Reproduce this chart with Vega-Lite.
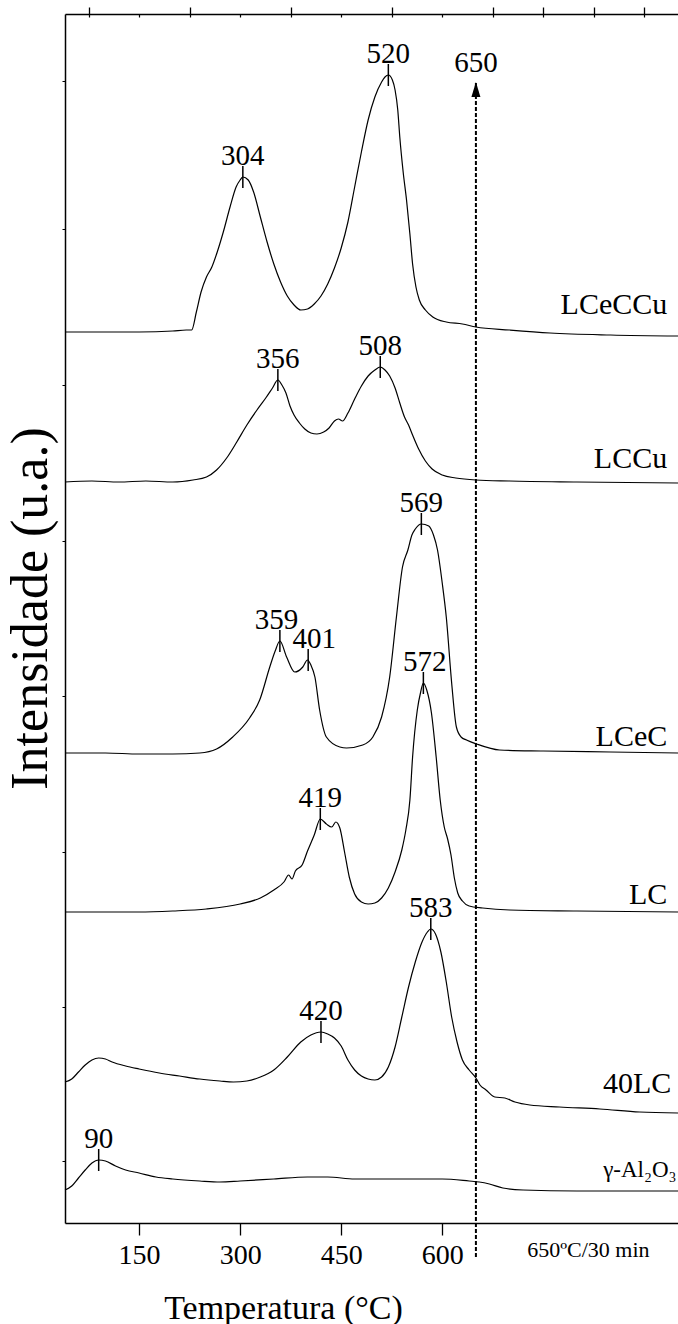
{
  "$schema": "https://vega.github.io/schema/vega-lite/v6.json",
  "width": 613,
  "height": 1209,
  "autosize": {"type": "none"},
  "padding": {"left": 65, "top": 14, "right": 0, "bottom": 101},
  "background": "white",
  "config": {"view": {"stroke": null}, "font": "Liberation Serif"},
  "datasets": {
    "curves": [
      {"s":"LCeCCu","T":40,"I":891},{"s":"LCeCCu","T":100,"I":891},{"s":"LCeCCu","T":150,"I":891},{"s":"LCeCCu","T":200,"I":892},{"s":"LCeCCu","T":220,"I":893},{"s":"LCeCCu","T":228,"I":893},{"s":"LCeCCu","T":235,"I":911},{"s":"LCeCCu","T":242,"I":931},{"s":"LCeCCu","T":250,"I":946},{"s":"LCeCCu","T":258,"I":956},{"s":"LCeCCu","T":266,"I":971},{"s":"LCeCCu","T":275,"I":991},{"s":"LCeCCu","T":285,"I":1016},{"s":"LCeCCu","T":294,"I":1036},{"s":"LCeCCu","T":300,"I":1043},{"s":"LCeCCu","T":304,"I":1046},{"s":"LCeCCu","T":312,"I":1043},{"s":"LCeCCu","T":320,"I":1031},{"s":"LCeCCu","T":330,"I":1006},{"s":"LCeCCu","T":340,"I":981},{"s":"LCeCCu","T":350,"I":959},{"s":"LCeCCu","T":360,"I":941},{"s":"LCeCCu","T":370,"I":927},{"s":"LCeCCu","T":380,"I":918},{"s":"LCeCCu","T":390,"I":913},{"s":"LCeCCu","T":400,"I":914},{"s":"LCeCCu","T":410,"I":919},{"s":"LCeCCu","T":420,"I":927},{"s":"LCeCCu","T":430,"I":939},{"s":"LCeCCu","T":440,"I":955},{"s":"LCeCCu","T":450,"I":975},{"s":"LCeCCu","T":460,"I":1001},{"s":"LCeCCu","T":470,"I":1036},{"s":"LCeCCu","T":480,"I":1071},{"s":"LCeCCu","T":490,"I":1103},{"s":"LCeCCu","T":500,"I":1126},{"s":"LCeCCu","T":510,"I":1141},{"s":"LCeCCu","T":515,"I":1146},{"s":"LCeCCu","T":520,"I":1148},{"s":"LCeCCu","T":526,"I":1143},{"s":"LCeCCu","T":530,"I":1133},{"s":"LCeCCu","T":534,"I":1113},{"s":"LCeCCu","T":537,"I":1086},{"s":"LCeCCu","T":542,"I":1051},{"s":"LCeCCu","T":547,"I":1023},{"s":"LCeCCu","T":552,"I":989},{"s":"LCeCCu","T":556,"I":959},{"s":"LCeCCu","T":561,"I":936},{"s":"LCeCCu","T":566,"I":923},{"s":"LCeCCu","T":575,"I":913},{"s":"LCeCCu","T":586,"I":906},{"s":"LCeCCu","T":606,"I":901},{"s":"LCeCCu","T":630,"I":899},{"s":"LCeCCu","T":650,"I":896},{"s":"LCeCCu","T":700,"I":893},{"s":"LCeCCu","T":760,"I":890},{"s":"LCeCCu","T":850,"I":888},{"s":"LCeCCu","T":950,"I":887},
      {"s":"LCCu","T":40,"I":741},{"s":"LCCu","T":80,"I":742},{"s":"LCCu","T":120,"I":741},{"s":"LCCu","T":160,"I":742},{"s":"LCCu","T":200,"I":741},{"s":"LCCu","T":230,"I":743},{"s":"LCCu","T":250,"I":746},{"s":"LCCu","T":265,"I":753},{"s":"LCCu","T":280,"I":765},{"s":"LCCu","T":295,"I":781},{"s":"LCCu","T":310,"I":798},{"s":"LCCu","T":325,"I":813},{"s":"LCCu","T":338,"I":825},{"s":"LCCu","T":348,"I":835},{"s":"LCCu","T":356,"I":843},{"s":"LCCu","T":362,"I":838},{"s":"LCCu","T":368,"I":830},{"s":"LCCu","T":374,"I":817},{"s":"LCCu","T":380,"I":808},{"s":"LCCu","T":388,"I":800},{"s":"LCCu","T":396,"I":794},{"s":"LCCu","T":405,"I":790},{"s":"LCCu","T":414,"I":789},{"s":"LCCu","T":424,"I":791},{"s":"LCCu","T":432,"I":795},{"s":"LCCu","T":440,"I":802},{"s":"LCCu","T":446,"I":804},{"s":"LCCu","T":452,"I":802},{"s":"LCCu","T":460,"I":810},{"s":"LCCu","T":470,"I":824},{"s":"LCCu","T":480,"I":837},{"s":"LCCu","T":490,"I":847},{"s":"LCCu","T":500,"I":853},{"s":"LCCu","T":508,"I":856},{"s":"LCCu","T":515,"I":853},{"s":"LCCu","T":522,"I":847},{"s":"LCCu","T":530,"I":835},{"s":"LCCu","T":537,"I":820},{"s":"LCCu","T":544,"I":806},{"s":"LCCu","T":550,"I":798},{"s":"LCCu","T":556,"I":788},{"s":"LCCu","T":565,"I":774},{"s":"LCCu","T":575,"I":762},{"s":"LCCu","T":585,"I":754},{"s":"LCCu","T":600,"I":748},{"s":"LCCu","T":620,"I":745},{"s":"LCCu","T":650,"I":743},{"s":"LCCu","T":700,"I":742},{"s":"LCCu","T":800,"I":741},{"s":"LCCu","T":950,"I":740},
      {"s":"LCeC","T":40,"I":470},{"s":"LCeC","T":100,"I":470},{"s":"LCeC","T":150,"I":469},{"s":"LCeC","T":200,"I":469},{"s":"LCeC","T":240,"I":470},{"s":"LCeC","T":265,"I":474},{"s":"LCeC","T":289,"I":486},{"s":"LCeC","T":314,"I":505},{"s":"LCeC","T":329,"I":523},{"s":"LCeC","T":344,"I":556},{"s":"LCeC","T":352,"I":572},{"s":"LCeC","T":359,"I":582},{"s":"LCeC","T":369,"I":566},{"s":"LCeC","T":381,"I":551},{"s":"LCeC","T":393,"I":556},{"s":"LCeC","T":400,"I":563},{"s":"LCeC","T":405,"I":558},{"s":"LCeC","T":411,"I":546},{"s":"LCeC","T":418,"I":513},{"s":"LCeC","T":428,"I":486},{"s":"LCeC","T":448,"I":476},{"s":"LCeC","T":458,"I":475},{"s":"LCeC","T":482,"I":478},{"s":"LCeC","T":497,"I":486},{"s":"LCeC","T":510,"I":506},{"s":"LCeC","T":522,"I":546},{"s":"LCeC","T":532,"I":606},{"s":"LCeC","T":541,"I":656},{"s":"LCeC","T":549,"I":673},{"s":"LCeC","T":555,"I":688},{"s":"LCeC","T":560,"I":694},{"s":"LCeC","T":569,"I":699},{"s":"LCeC","T":580,"I":697},{"s":"LCeC","T":587,"I":688},{"s":"LCeC","T":593,"I":673},{"s":"LCeC","T":600,"I":640},{"s":"LCeC","T":606,"I":606},{"s":"LCeC","T":614,"I":540},{"s":"LCeC","T":621,"I":496},{"s":"LCeC","T":628,"I":486},{"s":"LCeC","T":636,"I":483},{"s":"LCeC","T":651,"I":479},{"s":"LCeC","T":685,"I":473},{"s":"LCeC","T":750,"I":472},{"s":"LCeC","T":850,"I":471},{"s":"LCeC","T":950,"I":470},
      {"s":"LC","T":40,"I":311},{"s":"LC","T":100,"I":311},{"s":"LC","T":150,"I":311},{"s":"LC","T":200,"I":312},{"s":"LC","T":250,"I":314},{"s":"LC","T":300,"I":319},{"s":"LC","T":330,"I":325},{"s":"LC","T":350,"I":333},{"s":"LC","T":365,"I":341},{"s":"LC","T":372,"I":348},{"s":"LC","T":377,"I":344},{"s":"LC","T":382,"I":352},{"s":"LC","T":392,"I":358},{"s":"LC","T":400,"I":372},{"s":"LC","T":410,"I":388},{"s":"LC","T":419,"I":404},{"s":"LC","T":428,"I":399},{"s":"LC","T":436,"I":396},{"s":"LC","T":442,"I":401},{"s":"LC","T":448,"I":395},{"s":"LC","T":455,"I":371},{"s":"LC","T":462,"I":346},{"s":"LC","T":470,"I":329},{"s":"LC","T":480,"I":321},{"s":"LC","T":490,"I":319},{"s":"LC","T":500,"I":320},{"s":"LC","T":510,"I":325},{"s":"LC","T":520,"I":335},{"s":"LC","T":530,"I":351},{"s":"LC","T":540,"I":373},{"s":"LC","T":546,"I":393},{"s":"LC","T":552,"I":423},{"s":"LC","T":556,"I":466},{"s":"LC","T":563,"I":513},{"s":"LC","T":568,"I":531},{"s":"LC","T":572,"I":540},{"s":"LC","T":577,"I":533},{"s":"LC","T":584,"I":510},{"s":"LC","T":591,"I":466},{"s":"LC","T":597,"I":423},{"s":"LC","T":603,"I":396},{"s":"LC","T":608,"I":384},{"s":"LC","T":613,"I":368},{"s":"LC","T":618,"I":345},{"s":"LC","T":623,"I":330},{"s":"LC","T":630,"I":322},{"s":"LC","T":640,"I":317},{"s":"LC","T":660,"I":315},{"s":"LC","T":700,"I":313},{"s":"LC","T":800,"I":312},{"s":"LC","T":950,"I":311},
      {"s":"40LC","T":40,"I":141},{"s":"40LC","T":50,"I":144},{"s":"40LC","T":60,"I":151},{"s":"40LC","T":70,"I":158},{"s":"40LC","T":80,"I":163},{"s":"40LC","T":90,"I":165},{"s":"40LC","T":100,"I":164},{"s":"40LC","T":110,"I":161},{"s":"40LC","T":130,"I":157},{"s":"40LC","T":150,"I":154},{"s":"40LC","T":180,"I":150},{"s":"40LC","T":210,"I":147},{"s":"40LC","T":240,"I":144},{"s":"40LC","T":270,"I":142},{"s":"40LC","T":290,"I":141},{"s":"40LC","T":310,"I":142},{"s":"40LC","T":330,"I":146},{"s":"40LC","T":350,"I":153},{"s":"40LC","T":370,"I":166},{"s":"40LC","T":390,"I":181},{"s":"40LC","T":405,"I":188},{"s":"40LC","T":420,"I":191},{"s":"40LC","T":430,"I":189},{"s":"40LC","T":440,"I":185},{"s":"40LC","T":450,"I":177},{"s":"40LC","T":460,"I":163},{"s":"40LC","T":470,"I":153},{"s":"40LC","T":480,"I":147},{"s":"40LC","T":490,"I":144},{"s":"40LC","T":500,"I":143},{"s":"40LC","T":510,"I":146},{"s":"40LC","T":520,"I":156},{"s":"40LC","T":530,"I":176},{"s":"40LC","T":540,"I":206},{"s":"40LC","T":550,"I":236},{"s":"40LC","T":560,"I":261},{"s":"40LC","T":570,"I":281},{"s":"40LC","T":578,"I":291},{"s":"40LC","T":583,"I":294},{"s":"40LC","T":590,"I":289},{"s":"40LC","T":598,"I":271},{"s":"40LC","T":606,"I":241},{"s":"40LC","T":614,"I":206},{"s":"40LC","T":622,"I":181},{"s":"40LC","T":630,"I":163},{"s":"40LC","T":640,"I":153},{"s":"40LC","T":650,"I":145},{"s":"40LC","T":656,"I":138},{"s":"40LC","T":665,"I":133},{"s":"40LC","T":678,"I":126},{"s":"40LC","T":693,"I":125},{"s":"40LC","T":708,"I":121},{"s":"40LC","T":730,"I":118},{"s":"40LC","T":774,"I":116},{"s":"40LC","T":834,"I":114},{"s":"40LC","T":893,"I":111},{"s":"40LC","T":950,"I":110},
      {"s":"Al2O3","T":40,"I":33},{"s":"Al2O3","T":50,"I":37},{"s":"Al2O3","T":60,"I":45},{"s":"Al2O3","T":70,"I":53},{"s":"Al2O3","T":80,"I":60},{"s":"Al2O3","T":90,"I":63},{"s":"Al2O3","T":100,"I":62},{"s":"Al2O3","T":115,"I":57},{"s":"Al2O3","T":130,"I":53},{"s":"Al2O3","T":150,"I":50},{"s":"Al2O3","T":175,"I":46},{"s":"Al2O3","T":200,"I":44},{"s":"Al2O3","T":240,"I":42},{"s":"Al2O3","T":270,"I":41},{"s":"Al2O3","T":300,"I":42},{"s":"Al2O3","T":350,"I":44},{"s":"Al2O3","T":400,"I":46},{"s":"Al2O3","T":430,"I":46},{"s":"Al2O3","T":470,"I":44},{"s":"Al2O3","T":520,"I":44},{"s":"Al2O3","T":600,"I":44},{"s":"Al2O3","T":640,"I":42},{"s":"Al2O3","T":655,"I":41},{"s":"Al2O3","T":670,"I":39},{"s":"Al2O3","T":690,"I":35},{"s":"Al2O3","T":720,"I":33},{"s":"Al2O3","T":800,"I":32},{"s":"Al2O3","T":950,"I":32}
    ],
    "peaks": [
      {"s":"LCeCCu","T":304,"I":1046,"label":"304","Tl":304},
      {"s":"LCeCCu","T":520,"I":1148,"label":"520","Tl":520},
      {"s":"LCCu","T":356,"I":843,"label":"356","Tl":356},
      {"s":"LCCu","T":508,"I":856,"label":"508","Tl":508},
      {"s":"LCeC","T":359,"I":582,"label":"359","Tl":354},
      {"s":"LCeC","T":401,"I":563,"label":"401","Tl":410},
      {"s":"LCeC","T":569,"I":699,"label":"569","Tl":569},
      {"s":"LC","T":419,"I":404,"label":"419","Tl":419},
      {"s":"LC","T":572,"I":540,"label":"572","Tl":574},
      {"s":"40LC","T":420,"I":191,"label":"420","Tl":420},
      {"s":"40LC","T":583,"I":294,"label":"583","Tl":583},
      {"s":"Al2O3","T":90,"I":63,"label":"90","Tl":90}
    ]
  },
  "layer": [
    {
      "data": {"name": "curves"},
      "mark": {"type": "line", "color": "black", "strokeWidth": 1.2, "interpolate": "monotone"},
      "encoding": {
        "x": {"field": "T", "type": "quantitative", "scale": {"domain": [40, 950], "nice": false, "zero": false},
          "axis": {"values": [150, 300, 450, 600], "tickSize": 12, "tickWidth": 1.3, "tickColor": "black", "domainColor": "black", "domainWidth": 1.5, "grid": false,
            "labelFont": "Liberation Serif", "labelFontSize": 28, "labelColor": "black", "labelPadding": 20, "labelBaseline": "middle", "labelFlush": false,
            "title": "Temperatura (°C)", "titleFont": "Liberation Serif", "titleFontSize": 34, "titleFontWeight": "normal", "titleColor": "black",
            "titleX": 218, "titleY": 95, "titleBaseline": "alphabetic", "titleAlign": "center"}},
        "y": {"field": "I", "type": "quantitative", "scale": {"domain": [0, 1209], "nice": false, "zero": false},
          "axis": {"values": [62, 216, 371, 527, 682, 838, 994, 1142], "tickSize": 3, "tickColor": "black", "tickWidth": 1, "labels": false, "grid": false, "domainColor": "black", "domainWidth": 1.5,
            "title": "Intensidade (u.a.)", "titleFont": "Liberation Serif", "titleFontSize": 52, "titleFontWeight": "normal", "titleColor": "black",
            "titleX": -19, "titleY": 594, "titleBaseline": "alphabetic", "titleAlign": "center", "titleAngle": 270}},
        "detail": {"field": "s", "type": "nominal"}
      }
    },
    {
      "data": {"name": "peaks"},
      "mark": {"type": "point", "shape": "M0,-1L0,1", "size": 484, "filled": false, "stroke": "black", "strokeWidth": 1.5, "opacity": 1},
      "encoding": {
        "x": {"field": "T", "type": "quantitative", "scale": {"domain": [40, 950], "nice": false, "zero": false},
          "axis": {"values": [75, 225, 375, 525, 675, 750, 825, 900], "tickSize": 7, "tickWidth": 1.3, "tickColor": "black", "labels": false, "domain": false, "grid": false, "title": null}},
        "y": {"field": "I", "type": "quantitative", "scale": {"domain": [0, 1209], "nice": false, "zero": false}, "axis": null}
      }
    },
    {
      "data": {"name": "peaks"},
      "mark": {"type": "text", "font": "Liberation Serif", "fontSize": 29, "color": "black", "dy": -21, "baseline": "middle", "align": "center"},
      "encoding": {
        "x": {"field": "Tl", "type": "quantitative", "scale": {"domain": [40, 950], "nice": false, "zero": false},
          "axis": {"orient": "top", "ticks": false, "labels": false, "domainColor": "black", "domainWidth": 1.5, "grid": false, "title": null}},
        "y": {"field": "I", "type": "quantitative", "scale": {"domain": [0, 1209], "nice": false, "zero": false}, "axis": null},
        "text": {"field": "label", "type": "nominal"}
      }
    },
    {
      "data": {"values": [
        {"name": "LCeCCu", "T": 934, "I": 918},
        {"name": "LCCu", "T": 934, "I": 764},
        {"name": "LCeC", "T": 934, "I": 486},
        {"name": "LC", "T": 934, "I": 328},
        {"name": "40LC", "T": 940, "I": 139}
      ]},
      "mark": {"type": "text", "font": "Liberation Serif", "fontSize": 30, "color": "black", "align": "right", "baseline": "middle"},
      "encoding": {
        "x": {"field": "T", "type": "quantitative", "scale": {"domain": [40, 950], "nice": false, "zero": false},
          "axis": {"orient": "top", "offset": -3, "values": [75, 150, 225, 300, 375, 450, 525, 600, 675, 750, 825, 900], "tickSize": 3, "tickWidth": 1.2, "tickColor": "black", "labels": false, "domain": false, "grid": false, "title": null}},
        "y": {"field": "I", "type": "quantitative", "scale": {"domain": [0, 1209], "nice": false, "zero": false}, "axis": null},
        "text": {"field": "name", "type": "nominal"}
      }
    },
    {
      "data": {"values": [{"name": "γ-Al₂O₃", "T": 948, "I": 53}]},
      "mark": {"type": "text", "font": "Liberation Serif", "fontSize": 23, "color": "black", "align": "right", "baseline": "middle"},
      "encoding": {
        "x": {"field": "T", "type": "quantitative", "scale": {"domain": [40, 950], "nice": false, "zero": false}, "axis": null},
        "y": {"field": "I", "type": "quantitative", "scale": {"domain": [0, 1209], "nice": false, "zero": false}, "axis": null},
        "text": {"field": "name", "type": "nominal"}
      }
    },
    {
      "data": {"values": [{"T": 650, "lo": -34, "hi": 1141}]},
      "mark": {"type": "rule", "color": "black", "strokeWidth": 2, "strokeDash": [4, 2]},
      "encoding": {
        "x": {"field": "T", "type": "quantitative", "scale": {"domain": [40, 950], "nice": false, "zero": false}, "axis": null},
        "y": {"field": "lo", "type": "quantitative", "scale": {"domain": [0, 1209], "nice": false, "zero": false}, "axis": null},
        "y2": {"field": "hi"}
      }
    },
    {
      "data": {"values": [{"T": 650, "I": 1133.5}]},
      "mark": {"type": "point", "shape": "M-0.6,1L0,-1L0.6,1Z", "size": 225, "filled": true, "color": "black", "opacity": 1},
      "encoding": {
        "x": {"field": "T", "type": "quantitative", "scale": {"domain": [40, 950], "nice": false, "zero": false}, "axis": null},
        "y": {"field": "I", "type": "quantitative", "scale": {"domain": [0, 1209], "nice": false, "zero": false}, "axis": null}
      }
    },
    {
      "data": {"values": [{"text": "650", "T": 650, "I": 1160}]},
      "mark": {"type": "text", "font": "Liberation Serif", "fontSize": 29, "color": "black", "align": "center", "baseline": "middle"},
      "encoding": {
        "x": {"field": "T", "type": "quantitative", "scale": {"domain": [40, 950], "nice": false, "zero": false}, "axis": null},
        "y": {"field": "I", "type": "quantitative", "scale": {"domain": [0, 1209], "nice": false, "zero": false}, "axis": null},
        "text": {"field": "text", "type": "nominal"}
      }
    },
    {
      "data": {"values": [{"text": "650ºC/30 min", "T": 817, "I": -27}]},
      "mark": {"type": "text", "font": "Liberation Serif", "fontSize": 22, "color": "black", "align": "center", "baseline": "middle"},
      "encoding": {
        "x": {"field": "T", "type": "quantitative", "scale": {"domain": [40, 950], "nice": false, "zero": false}, "axis": null},
        "y": {"field": "I", "type": "quantitative", "scale": {"domain": [0, 1209], "nice": false, "zero": false}, "axis": null},
        "text": {"field": "text", "type": "nominal"}
      }
    }
  ],
  "resolve": {"axis": {"x": "independent", "y": "independent"}}
}
